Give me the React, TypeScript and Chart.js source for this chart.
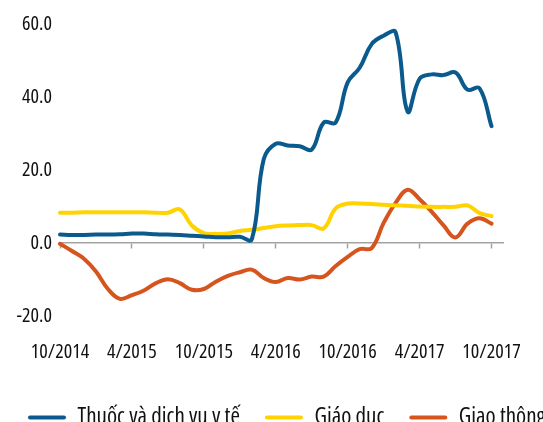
import React, { useEffect, useRef } from "react";
import { Chart, registerables } from "chart.js";

Chart.register(...registerables);

const months = [
  "10/2014", "11/2014", "12/2014",
  "1/2015", "2/2015", "3/2015", "4/2015", "5/2015", "6/2015", "7/2015", "8/2015", "9/2015", "10/2015", "11/2015", "12/2015",
  "1/2016", "2/2016", "3/2016", "4/2016", "5/2016", "6/2016", "7/2016", "8/2016", "9/2016", "10/2016", "11/2016", "12/2016",
  "1/2017", "2/2017", "3/2017", "4/2017", "5/2017", "6/2017", "7/2017", "8/2017", "9/2017", "10/2017", "11/2017",
];

const tickLabels = ["10/2014", "4/2015", "10/2015", "4/2016", "10/2016", "4/2017", "10/2017"];

const seriesNames = ["Thuốc và dich vu y tế", "Giáo duc", "Giao thông"];

const thuoc = [2.3, 2.2, 2.2, 2.3, 2.3, 2.4, 2.6, 2.6, 2.4, 2.3, 2.2, 2.0, 1.8, 1.6, 1.6, 1.7, 1.0, 23, 27.2, 26.7, 26.5, 25.6, 33, 33, 44, 48, 54.5, 56.8, 57.7, 36, 45, 46.2, 46, 46.7, 42, 42.4, 32];
const giaoDuc = [8.3, 8.3, 8.4, 8.4, 8.4, 8.4, 8.4, 8.4, 8.3, 8.3, 9.2, 4.8, 2.7, 2.5, 2.6, 3.3, 3.6, 4.1, 4.6, 4.8, 4.9, 4.9, 4.0, 9.5, 10.8, 10.8, 10.7, 10.5, 10.3, 10.2, 10.0, 9.9, 9.9, 9.9, 10.3, 8.2, 7.4];
const giaoThong = [-0.2, -2.2, -4.3, -7.8, -12.6, -15.3, -14.3, -13, -11, -9.9, -11, -12.8, -12.6, -10.6, -9, -8, -7.3, -9.6, -10.7, -9.6, -10, -9.2, -9.2, -6.3, -3.8, -1.7, -1.4, 5.5, 11, 14.6, 12, 8.6, 4.8, 1.5, 5.3, 6.8, 5.3];

const yTicks = [-20, 0, 20, 40, 60];

const COLORS = ["#0b5a8e", "#ffd200", "#d6551e"];
const W = 600;
const H = 439;

export default function App() {
  const ref = useRef<HTMLCanvasElement>(null);

  useEffect(() => {
    Chart.defaults.font.family = "'Open Sans', sans-serif";
    (Chart.defaults.font as any).weight = "condensed";
    Chart.defaults.font.size = 20;
    Chart.defaults.color = "#111";
    const values = [thuoc, giaoDuc, giaoThong];
    const chart = new Chart(ref.current!, {
      type: "line",
      data: {
        labels: months,
        datasets: values.map((vals, i) => ({
          label: seriesNames[i],
          data: vals,
          borderColor: COLORS[i],
          backgroundColor: COLORS[i],
          borderWidth: 4,
          pointRadius: 0,
          tension: 0.4,
          borderCapStyle: "round" as const,
          borderJoinStyle: "round" as const,
          fill: false,
        })),
      },
      options: {
        responsive: false,
        animation: false,
        layout: { padding: { top: 24, right: 0, left: 3, bottom: 0 } },
        plugins: {
          tooltip: { enabled: false },
          legend: {
            position: "bottom",
            align: "start",
            labels: {
              boxWidth: 38,
              boxHeight: 4,
              padding: 25,
              useBorderRadius: true,
              borderRadius: 2,
              font: { size: 23 },
              generateLabels: (c: any) =>
                Chart.defaults.plugins.legend.labels.generateLabels(c).map((it: any) => ({
                  ...it,
                  lineWidth: 0,
                  fillStyle: it.strokeStyle,
                })),
            },
          },
        },
        scales: {
          x: {
            type: "category",
            grid: { display: false, drawTicks: false },
            border: { display: false },
            ticks: {
              autoSkip: false,
              maxRotation: 0,
              padding: 24,
              callback: (_v: any, i: number) => (tickLabels.includes(months[i]) && i < 37 ? months[i] : ""),
            },
            afterFit: (s: any) => {
              s.height = 65;
            },
          },
          xz: {
            type: "category",
            axis: "x",
            position: { y: 0 },
            grid: {
              drawOnChartArea: false,
              drawTicks: true,
              tickLength: 5,
              tickWidth: 1.5,
              tickColor: (ctx: any) => (tickLabels.includes(months[ctx.index]) && ctx.index < 37 ? "#a3a3a3" : "rgba(0,0,0,0)"),
            },
            border: { display: true, color: "#a3a3a3", width: 1.5 },
            ticks: { display: false },
          },
          y: {
            min: -20,
            max: 60,
            afterBuildTicks: (s: any) => {
              s.ticks = yTicks.map((v) => ({ value: v }));
            },
            ticks: {
              padding: 8,
              callback: (v: any) => Number(v).toFixed(1),
            },
            grid: { display: false, drawTicks: false },
            border: { display: false },
            afterFit: (s: any) => {
              s.width = 57;
            },
          },
          yR: {
            type: "linear",
            position: "right",
            grid: { display: false, drawTicks: false },
            border: { display: false },
            ticks: { display: false },
            afterFit: (s: any) => {
              s.width = W - 503.5;
            },
          },
        },
      } as any,
    });
    return () => chart.destroy();
  }, []);

  return (
    <div style={{ position: "fixed", left: 0, top: 0, width: W, height: H }}>
      <canvas ref={ref} width={W} height={H} style={{ display: "block", width: W, height: H }} />
    </div>
  );
}
